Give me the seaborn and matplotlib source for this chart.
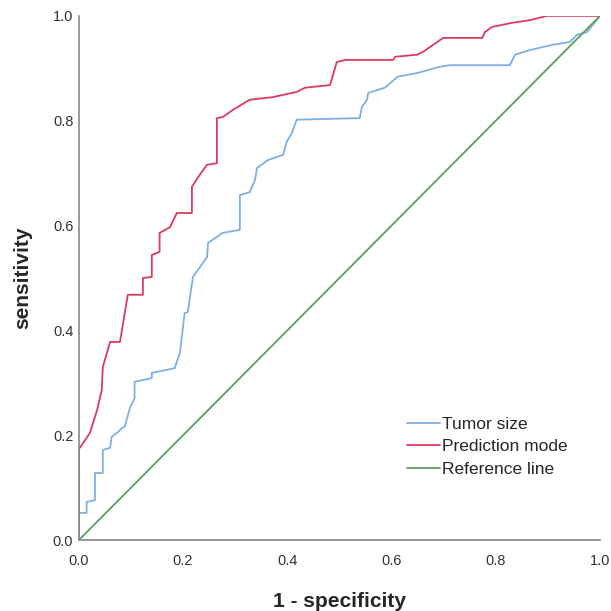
import seaborn as sns
import matplotlib.pyplot as plt
import pandas as pd

# ROC curve vertices
size_fpr = [0, 0, 0.015, 0.015, 0.031, 0.031, 0.046, 0.046, 0.060, 0.063, 0.075, 0.083, 0.088,
            0.098, 0.107, 0.107, 0.140, 0.140, 0.184, 0.188, 0.194, 0.203, 0.209, 0.219, 0.246,
            0.248, 0.276, 0.309, 0.309, 0.328, 0.338, 0.342, 0.363, 0.392, 0.399, 0.409, 0.418,
            0.539, 0.543, 0.553, 0.555, 0.587, 0.612, 0.649, 0.693, 0.712, 0.827, 0.837, 0.866,
            0.910, 0.942, 0.956, 0.975, 1.0]
size_tpr = [0, 0.052, 0.052, 0.073, 0.076, 0.128, 0.128, 0.172, 0.176, 0.197, 0.206, 0.214, 0.216,
            0.252, 0.271, 0.302, 0.309, 0.319, 0.328, 0.340, 0.357, 0.433, 0.435, 0.502, 0.540,
            0.567, 0.586, 0.592, 0.658, 0.664, 0.687, 0.710, 0.725, 0.735, 0.760, 0.777, 0.802,
            0.805, 0.826, 0.840, 0.853, 0.863, 0.884, 0.891, 0.903, 0.906, 0.906, 0.926, 0.935,
            0.945, 0.950, 0.964, 0.969, 1.0]

model_fpr = [0, 0, 0.002, 0.021, 0.035, 0.044, 0.046, 0.060, 0.079, 0.094, 0.123, 0.123, 0.140,
             0.140, 0.155, 0.155, 0.175, 0.188, 0.217, 0.217, 0.232, 0.246, 0.265, 0.265, 0.276,
             0.296, 0.328, 0.372, 0.418, 0.434, 0.482, 0.495, 0.511, 0.603, 0.607, 0.649, 0.660,
             0.699, 0.774, 0.779, 0.793, 0.833, 0.866, 0.898, 1.0]
model_tpr = [0, 0.176, 0.176, 0.204, 0.248, 0.286, 0.330, 0.378, 0.378, 0.468, 0.468, 0.500, 0.502,
             0.544, 0.550, 0.586, 0.597, 0.624, 0.624, 0.674, 0.697, 0.716, 0.719, 0.805, 0.807,
             0.821, 0.840, 0.845, 0.855, 0.863, 0.868, 0.912, 0.916, 0.916, 0.922, 0.926, 0.931,
             0.958, 0.958, 0.969, 0.979, 0.987, 0.992, 1.0, 1.0]

ref_x = [0, 1]
ref_y = [0, 1]

labels = ['Tumor size', 'Prediction mode', 'Reference line']
colors = ['#7fb0e0', '#dc3a62', '#5a9e62']

df = pd.concat([
    pd.DataFrame({'fpr': size_fpr, 'tpr': size_tpr, 'curve': labels[0]}),
    pd.DataFrame({'fpr': model_fpr, 'tpr': model_tpr, 'curve': labels[1]}),
    pd.DataFrame({'fpr': ref_x, 'tpr': ref_y, 'curve': labels[2]}),
])

sns.set_style('white')
plt.rcParams['font.family'] = ['Liberation Sans', 'DejaVu Sans']

fig = plt.figure(figsize=(6.11, 6.11), dpi=100)
ax = fig.add_axes([0.129, 0.116, 0.853, 0.858])
sns.lineplot(data=df, x='fpr', y='tpr', hue='curve', palette=colors, sort=False,
             estimator=None, linewidth=1.3, ax=ax)

ax.set_xlim(0, 1)
ax.set_ylim(0, 1)
ax.set_xticks([0, 0.2, 0.4, 0.6, 0.8, 1.0])
ax.set_yticks([0, 0.2, 0.4, 0.6, 0.8, 1.0])
ax.set_xticklabels(['0.0', '0.2', '0.4', '0.6', '0.8', '1.0'])
ax.set_yticklabels(['0.0', '0.2', '0.4', '0.6', '0.8', '1.0'])
ax.tick_params(axis='x', length=0, labelsize=10.5, colors='#333333', pad=10)
ax.tick_params(axis='y', length=0, labelsize=10.5, colors='#333333', pad=4)
ax.set_xlabel('1 - specificity', fontsize=15, fontweight='bold', labelpad=17)
ax.set_ylabel('sensitivity', fontsize=15, fontweight='bold', labelpad=15)
sns.despine(ax=ax)
for s in ['left', 'bottom']:
    ax.spines[s].set_color('#888888')
    ax.spines[s].set_linewidth(1.2)

ax.legend(title=None, loc='upper left', bbox_to_anchor=(0.6, 0.265), frameon=False,
          fontsize=12.5, handlelength=1.9, handletextpad=0.1, labelspacing=0.42)

plt.savefig('out.png', dpi=100)
